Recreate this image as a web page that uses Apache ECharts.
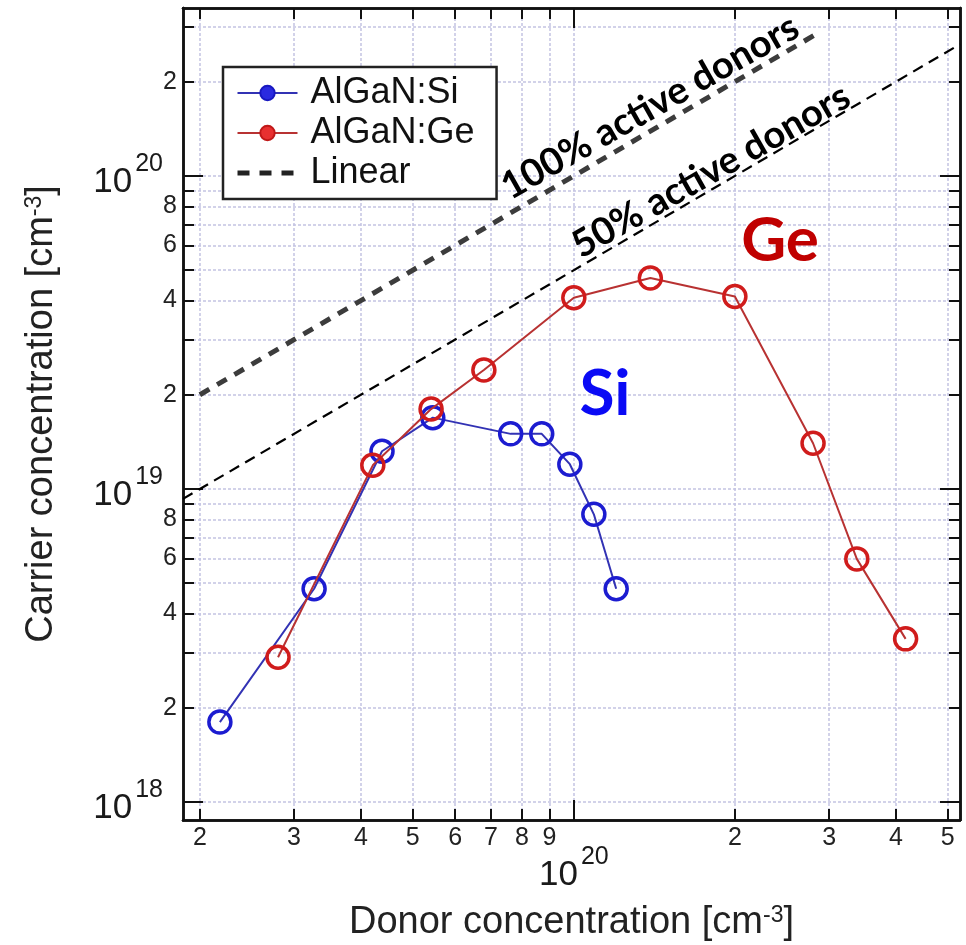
<!DOCTYPE html>
<html><head><meta charset="utf-8">
<script src="https://cdn.jsdelivr.net/npm/echarts@6/dist/echarts.min.js"></script>
<style>html,body{margin:0;padding:0;background:#fff}#c{width:966px;height:945px}</style>
</head><body><div id="c"></div>
<script>
// ---- data ----
const siDonor   = [2.18e19, 3.27e19, 4.38e19, 5.45e19, 7.62e19, 8.71e19, 9.83e19, 1.09e20, 1.20e20];
const siCarrier = [1.80e18, 4.80e18, 1.32e19, 1.69e19, 1.50e19, 1.50e19, 1.20e19, 8.30e18, 4.80e18];
const geDonor   = [2.80e19, 4.21e19, 5.41e19, 6.79e19, 1.00e20, 1.39e20, 2.00e20, 2.80e20, 3.38e20, 4.17e20];
const geCarrier = [2.90e18, 1.19e19, 1.80e19, 2.40e19, 4.08e19, 4.72e19, 4.12e19, 1.40e19, 5.98e18, 3.32e18];
const lin100Donor   = [2.0e19, 2.9e20];
const lin100Carrier = [2.0e19, 2.9e20];
const lin50Donor    = [1.86e19, 5.27e20];
const lin50Carrier  = [0.93e19, 2.635e20];
const xRange = [1.86e19, 5.27e20];
const yRange = [8.76e17, 3.44e20];
const xTickValues  = [2e19,3e19,4e19,5e19,6e19,7e19,8e19,9e19,1e20,2e20,3e20,4e20,5e20];
const xLabelValues = [2e19,3e19,4e19,5e19,6e19,7e19,8e19,9e19,2e20,3e20,4e20,5e20];
const xMajorValues = [1e20];
const yTickValues  = [1e18,2e18,3e18,4e18,5e18,6e18,7e18,8e18,9e18,1e19,2e19,3e19,4e19,5e19,6e19,7e19,8e19,9e19,1e20,2e20,3e20];
const yLabelValues = [2e18,4e18,6e18,8e18,2e19,4e19,6e19,8e19,2e20];
const yMajorValues = [1e18,1e19,1e20];

const pair = (xs, ys) => xs.map((x, i) => [x, ys[i]]);
const mant = v => String(Math.round(v / Math.pow(10, Math.floor(Math.log10(v) + 1e-9))));
const expo = v => '{b|10}{s|' + Math.round(Math.log10(v)) + '}';
const FONT = 'Liberation Sans, Arial, Helvetica, sans-serif';
const majorRich = {
  b: {fontSize: 35, fontFamily: FONT, color: '#1a1a1a', verticalAlign: 'bottom', lineHeight: 48},
  s: {fontSize: 25, fontFamily: FONT, color: '#1a1a1a', verticalAlign: 'top', lineHeight: 48, padding: [0,0,0,3]}
};
const gridLine = {show: true, lineStyle: {color: '#c4c4e2', width: 1.5, type: [3, 2]}};
const axisLine = {show: true, lineStyle: {color: '#111', width: 2.5}};

function xAx(pos, values, len, labels, extra) {
  return Object.assign({
    type: 'log', logBase: 10, min: xRange[0], max: xRange[1], position: pos, gridIndex: 0,
    axisLine: axisLine,
    axisTick: {show: true, inside: true, length: len, customValues: values, lineStyle: {color: '#111', width: 2}},
    axisLabel: labels || {show: false},
    splitLine: {show: false}, minorTick: {show: false}, minorSplitLine: {show: false}
  }, extra || {});
}
function yAx(pos, values, len, labels, extra) {
  return Object.assign({
    type: 'log', logBase: 10, min: yRange[0], max: yRange[1], position: pos, gridIndex: 0,
    axisLine: axisLine,
    axisTick: {show: true, inside: true, length: len, customValues: values, lineStyle: {color: '#111', width: 2}},
    axisLabel: labels || {show: false},
    splitLine: {show: false}, minorTick: {show: false}, minorSplitLine: {show: false}
  }, extra || {});
}
const nameStyle = {fontSize: 38, fontFamily: FONT, color: '#222',
  rich: {s: {fontSize: 23, fontFamily: FONT, color: '#222', verticalAlign: 'top', padding: [0,0,15,0]}}};

const chart = echarts.init(document.getElementById('c'), null, {renderer: 'canvas'});
const deg = 29.6 * Math.PI / 180;
chart.setOption({
  backgroundColor: '#fff',
  animation: false,
  grid: {left: 183, right: 6, top: 8, bottom: 125, containLabel: false, outerBoundsMode: 'none'},
  xAxis: [
    xAx('bottom', xTickValues, 11, {show: true, customValues: xLabelValues, formatter: v => mant(v), margin: 6,
        fontSize: 25, fontFamily: FONT, color: '#222'},
        {name: 'Donor concentration [cm{s|-3}]', nameLocation: 'middle', nameGap: 84,
         nameTextStyle: nameStyle, splitLine: gridLine}),
    xAx('top', xTickValues, 11),
    xAx('bottom', xMajorValues, 20, {show: true, customValues: xMajorValues, formatter: v => expo(v), margin: 25, rich: majorRich}),
    xAx('top', xMajorValues, 20)
  ],
  yAxis: [
    yAx('left', yTickValues, 11, {show: true, customValues: yLabelValues, formatter: v => mant(v), margin: 6,
        fontSize: 25, fontFamily: FONT, color: '#222'},
        {name: 'Carrier concentration [cm{s|-3}]', nameLocation: 'middle', nameGap: 122, nameRotate: 90,
         nameTextStyle: nameStyle, splitLine: gridLine}),
    yAx('right', yTickValues, 11),
    yAx('left', yMajorValues, 20, {show: true, customValues: yMajorValues, formatter: v => expo(v), margin: 20, rich: majorRich}),
    yAx('right', yMajorValues, 20)
  ],
  legend: {
    orient: 'vertical', left: 223, top: 67,
    data: [
      {name: 'AlGaN:Si', itemStyle: {color: '#2a2ae0', borderColor: '#1818c0', borderWidth: 2}},
      {name: 'AlGaN:Ge', itemStyle: {color: '#e83030', borderColor: '#c01818', borderWidth: 2}},
      {name: 'Linear', itemStyle: {opacity: 0}, lineStyle: {color: '#222', width: 5, type: [12, 10]}}
    ],
    itemWidth: 60, itemHeight: 18, itemGap: 4,
    padding: [8, 22, 8, 12],
    borderColor: '#222', borderWidth: 2.5, backgroundColor: '#fff',
    textStyle: {fontSize: 36, fontFamily: FONT, color: '#111', padding: [0, 0, 0, 8]}
  },
  series: [
    {name: 'Linear', type: 'line', xAxisIndex: 0, yAxisIndex: 0, data: pair(lin100Donor, lin100Carrier),
     symbol: 'none', lineStyle: {color: '#3c3c3c', width: 5, type: [11, 9]}, z: 3},
    {name: 'Linear 50%', type: 'line', xAxisIndex: 0, yAxisIndex: 0, data: pair(lin50Donor, lin50Carrier),
     symbol: 'none', lineStyle: {color: '#000', width: 2.2, type: [11, 7]}, z: 3},
    {name: 'AlGaN:Si', type: 'line', xAxisIndex: 0, yAxisIndex: 0, data: pair(siDonor, siCarrier),
     symbol: 'circle', symbolSize: 22,
     lineStyle: {color: '#3232b4', width: 2},
     itemStyle: {color: 'rgba(255,255,255,0)', borderColor: '#1c1cd0', borderWidth: 3.5}, z: 4},
    {name: 'AlGaN:Ge', type: 'line', xAxisIndex: 0, yAxisIndex: 0, data: pair(geDonor, geCarrier),
     symbol: 'circle', symbolSize: 22,
     lineStyle: {color: '#b83232', width: 2},
     itemStyle: {color: 'rgba(255,255,255,0)', borderColor: '#d01c1c', borderWidth: 3.5}, z: 5}
  ],
  graphic: [
    {type: 'text', x: 650, y: 107, rotation: deg, z: 100,
     style: {text: '100% active donors', fontSize: 38, fontWeight: 'bold', fontFamily: 'Lato, sans-serif', fill: '#000', align: 'center', verticalAlign: 'middle'}},
    {type: 'text', x: 711, y: 171, rotation: deg, z: 100,
     style: {text: '50% active donors', fontSize: 38, fontWeight: 'bold', fontFamily: 'Lato, sans-serif', fill: '#000', align: 'center', verticalAlign: 'middle'}},
    {type: 'text', x: 780, y: 241, z: 100,
     style: {text: 'Ge', fontSize: 62, fontWeight: 'bold', fontFamily: 'Lato, sans-serif', fill: '#c00000', align: 'center', verticalAlign: 'middle'}},
    {type: 'text', x: 605, y: 394, z: 100,
     style: {text: 'Si', fontSize: 64, fontWeight: 'bold', fontFamily: 'Lato, sans-serif', fill: '#0a0af5', align: 'center', verticalAlign: 'middle'}}
  ]
});
</script></body></html>
